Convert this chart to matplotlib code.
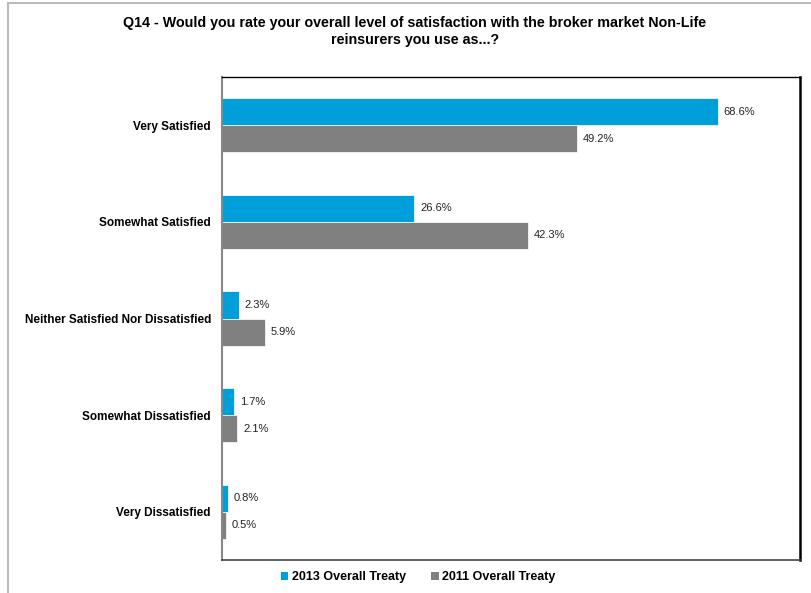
import matplotlib
matplotlib.use("Agg")
import matplotlib.pyplot as plt
from matplotlib.lines import Line2D
from matplotlib.patches import Patch
import numpy as np

plt.rcParams['font.family'] = ['Liberation Sans', 'DejaVu Sans']

# Respuestas y porcentajes por año
categories = ["Very Satisfied", "Somewhat Satisfied", "Neither Satisfied Nor Dissatisfied",
              "Somewhat Dissatisfied", "Very Dissatisfied"]
values_2013 = [68.6, 26.6, 2.3, 1.7, 0.8]
values_2011 = [49.2, 42.3, 5.9, 2.1, 0.5]
series_names = ["2013 Overall Treaty", "2011 Overall Treaty"]

blue = "#009FDA"
grey = "#808080"

fig = plt.figure(figsize=(8.12, 5.93), dpi=100)
ax = fig.add_axes([222 / 812, 1 - 560 / 593, (800 - 222) / 812, (560 - 77) / 593])

y = np.arange(len(categories))
h = 0.28
ax.barh(y - h / 2, values_2013, height=h, color=blue, edgecolor="white", linewidth=0.5)
ax.barh(y + h / 2, values_2011, height=h, color=grey, edgecolor="white", linewidth=0.5)

for yi, v in zip(y, values_2013):
    ax.text(v + 0.8, yi - h / 2, f"{v:.1f}%", va="center", ha="left", fontsize=8, color="#222222")
for yi, v in zip(y, values_2011):
    ax.text(v + 0.8, yi + h / 2, f"{v:.1f}%", va="center", ha="left", fontsize=8, color="#222222")

ax.set_xlim(0, 80)
ax.set_ylim(len(categories) - 0.5, -0.5)
ax.set_yticks(y)
ax.set_yticklabels(categories, fontsize=8.5, fontweight="bold")
ax.tick_params(axis="y", length=0, pad=8)
ax.set_xticks([])
for s in ax.spines.values():
    s.set_linewidth(1.0)
    s.set_color("black")
ax.spines["right"].set_linewidth(1.8)
ax.spines["left"].set_color("#888888")
ax.spines["left"].set_linewidth(1.5)
ax.spines["bottom"].set_color("#444444")
ax.spines["bottom"].set_linewidth(1.2)

fig.text(0.511, 1 - 16 / 593, "Q14 - Would you rate your overall level of satisfaction with the broker market Non-Life\nreinsurers you use as...?",
         ha="center", va="top", fontsize=10.3, fontweight="bold", linespacing=1.3)

handles = [Patch(facecolor=blue), Patch(facecolor=grey)]
fig.legend(handles, series_names, loc="center", bbox_to_anchor=(0.515, 1 - 577 / 593), ncol=2,
           frameon=False, prop={"size": 9, "weight": "bold"}, handlelength=0.6, handleheight=0.6,
           handletextpad=0.3, columnspacing=2.0)

# Marco exterior de la figura
fig.add_artist(Line2D([8 / 812, 1], [1 - 3 / 593, 1 - 3 / 593], transform=fig.transFigure, color="#BBBBBB", lw=1.5))
fig.add_artist(Line2D([8 / 812, 8 / 812], [0, 1 - 3 / 593], transform=fig.transFigure, color="#BBBBBB", lw=1.5))

fig.savefig("out.png", dpi=100)
